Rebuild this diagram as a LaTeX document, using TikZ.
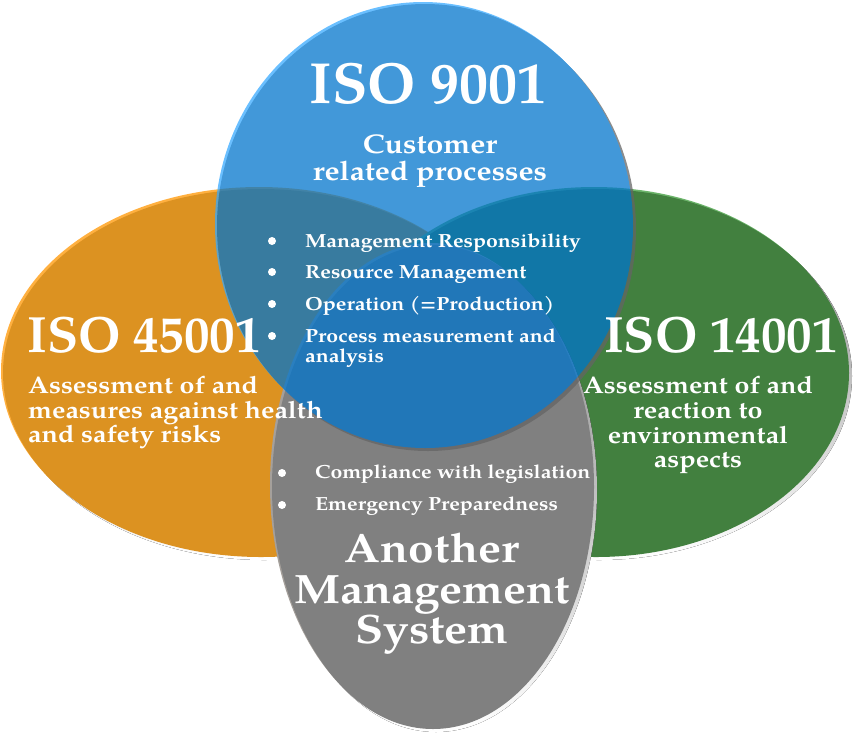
\documentclass[tikz,border=0pt]{standalone}
\usepackage{fontspec}
\setmainfont{texgyrepagella}[Extension=.otf, UprightFont=*-regular, BoldFont=*-bold,
  ItalicFont=*-italic, BoldItalicFont=*-bolditalic]
\newfontfamily\widefont{texgyrepagella}[Extension=.otf, UprightFont=*-bold, FakeStretch=1.12]

\definecolor{isoblue}{RGB}{0,116,204}
\definecolor{isoblueL}{RGB}{54,169,255}
\definecolor{isoblueD}{RGB}{100,100,100}
\definecolor{isoorange}{RGB}{220,146,33}
\definecolor{isoorangeL}{RGB}{255,176,64}
\definecolor{isogreen}{RGB}{66,128,63}
\definecolor{isogreenL}{RGB}{108,180,106}
\definecolor{isogray}{RGB}{128,128,128}
\definecolor{isograyL}{RGB}{165,160,155}
\definecolor{shade}{RGB}{125,125,125}

\tikzset{
  ttl/.style={text=white, inner sep=0pt, font=\bfseries\fontsize{51}{51}\selectfont},
  sub/.style={text=white, inner sep=0pt, font=\widefont\fontsize{24}{24}\selectfont},
  itm/.style={text=white, inner sep=0pt, anchor=base west, font=\widefont\fontsize{19}{19}\selectfont},
  dot/.style={fill=white}
}

\begin{document}
\begin{tikzpicture}[x=1pt, y=-1pt]
    \useasboundingbox (0,0) rectangle (854,732);

    % orange, green and gray ellipses, each with a light rim and a shadow
    \foreach \cx/\cy/\rx/\ry/\col in {261/373/258/184/isoorange, 596/373/253/184/isogreen, 433/487/161/242/isogray}
    {
        \fill[shade] ({\cx+3},{\cy+3}) ellipse [x radius=\rx pt, y radius=\ry pt];
        \fill[\col L] ({\cx-2},{\cy-2}) ellipse [x radius=\rx pt, y radius=\ry pt];
        \fill[\col] (\cx,\cy) ellipse [x radius=\rx pt, y radius=\ry pt];
    }

    % blue one on top, seen through
    \begin{scope}[transparency group, opacity=0.74]
        \fill[isoblueD] (428,229) ellipse [x radius=208pt, y radius=222pt];
        \fill[isoblueL] (423,224) ellipse [x radius=208pt, y radius=222pt];
        \fill[isoblue] (425,226) ellipse [x radius=208pt, y radius=222pt];
    \end{scope}

    % ISO 9001
    \node[ttl, anchor=base, font=\bfseries\fontsize{58}{58}\selectfont] (iso9001) at (428,103) {ISO 9001};
    \foreach \txt [count=\i] in {Customer, related processes}
        \node[sub, anchor=base, font=\widefont\fontsize{27}{27}\selectfont] (cust\i) at (430,{126+27*\i}) {\txt};
    \foreach \txt/\yy [count=\i] in {Management Responsibility/247, Resource Management/278, Operation (=Production)/310, Process measurement and/342}
    {
        \fill[dot] (272,{\yy-6}) circle (4pt);
        \node[itm] (qm\i) at (305,\yy) {\txt};
    }
    \node[itm] (qm5) at (305,362) {analysis};

    % ISO 45001
    \node[ttl, anchor=base west] (iso45001) at (27,352) {ISO 45001};
    \foreach \txt/\yy [count=\i] in {Assessment of and/393, measures against health/418, and safety risks/442}
        \node[sub, anchor=base west] (ohs\i) at (28,\yy) {\txt};

    % ISO 14001
    \node[ttl, anchor=base] (iso14001) at (721,352) {ISO 14001};
    \foreach \txt/\yy [count=\i] in {Assessment of and/393, reaction to/418, environmental/443, aspects/467}
        \node[sub, anchor=base] (env\i) at (698,\yy) {\txt};

    % another system
    \foreach \txt/\yy [count=\i] in {Compliance with legislation/478, Emergency Preparedness/510}
    {
        \fill[dot] (282,{\yy-5}) circle (4pt);
        \node[itm] (ams\i) at (315,\yy) {\txt};
    }
    \foreach \txt/\yy [count=\i] in {Another/562, Management/603, System/643}
        \node[ttl, anchor=base, font=\widefont\fontsize{41}{41}\selectfont] (amst\i) at (432,\yy) {\txt};
\end{tikzpicture}
\end{document}
